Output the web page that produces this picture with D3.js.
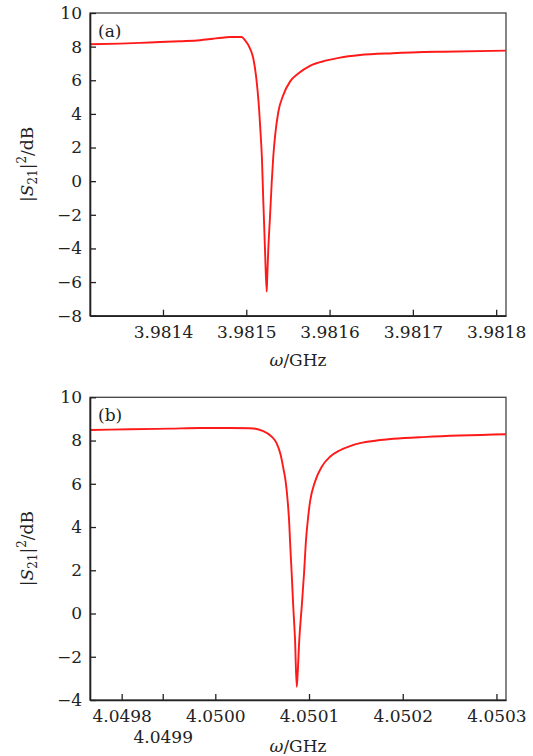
<!DOCTYPE html>
<html>
<head>
<meta charset="utf-8">
<script src="https://cdn.jsdelivr.net/npm/d3@7"></script>
<style>
  body { margin: 0; background: #fff; }
  svg text { font-family: "DejaVu Serif", serif; fill: #222; }
</style>
</head>
<body>
<div id="chart"></div>
<script>
// panel (a) : transmission around 3.98152 GHz
var freqA = [3.9813124, 3.9813484, 3.9813844, 3.9814204, 3.9814444, 3.9814600, 3.9814708,
  3.9814804, 3.9814945, 3.9814984, 3.9815044, 3.9815084, 3.9815116, 3.9815137, 3.9815156,
  3.9815173, 3.9815188, 3.9815204, 3.9815225, 3.9815245, 3.9815252, 3.9815264, 3.9815285,
  3.9815305, 3.9815324, 3.9815345, 3.9815384, 3.9815444, 3.9815525, 3.9815624, 3.9815765,
  3.9815965, 3.9816125, 3.9816365, 3.9816761, 3.9817361, 3.9818118];
var s21A = [8.14, 8.18, 8.25, 8.32, 8.38, 8.47, 8.53,
  8.57, 8.57, 8.39, 7.90, 7.31, 6.31, 5.32, 4.13,
  2.75, 1.36, -1.12, -4.09, -6.57, -5.68, -4.09, -2.11,
  -0.12, 1.45, 2.65, 4.10, 5.12, 5.92, 6.40, 6.86,
  7.18, 7.35, 7.50, 7.61, 7.70, 7.76];
var ticksA = [3.9814, 3.9815, 3.9816, 3.9817, 3.9818];
var tickLabelsA = ["3.9814", "3.9815", "3.9816", "3.9817", "3.9818"];
var yTicksA = [-8, -6, -4, -2, 0, 2, 4, 6, 8, 10];

// panel (b) : transmission around 4.05009 GHz
var freqB = [4.0498663, 4.0499090, 4.0499517, 4.0499837, 4.0500157, 4.0500370, 4.0500512,
  4.0500602, 4.0500655, 4.0500698, 4.0500726, 4.0500751, 4.0500773, 4.0500790, 4.0500797,
  4.0500815, 4.0500832, 4.0500851, 4.0500869, 4.0500879, 4.0500896, 4.0500922, 4.0500947,
  4.0500968, 4.0500982, 4.0501011, 4.0501064, 4.0501136, 4.0501224, 4.0501331, 4.0501438,
  4.0501544, 4.0501722, 4.0501900, 4.0502256, 4.0503102];
var s21B = [8.49, 8.52, 8.55, 8.58, 8.58, 8.57, 8.44,
  8.18, 7.87, 7.33, 6.72, 6.10, 5.17, 4.09, 3.40,
  1.86, 0.31, -1.23, -3.39, -2.77, -1.23, 0.31, 1.86,
  3.40, 4.09, 5.17, 6.10, 6.79, 7.25, 7.55, 7.74,
  7.88, 8.00, 8.08, 8.17, 8.29];
var ticksB = [4.0499001, 4.0499439, 4.0500, 4.0501, 4.0502, 4.0503];
var tickLabelsB = ["4.0498", "4.0499", "4.0500", "4.0501", "4.0502", "4.0503"];
var yTicksB = [-4, -2, 0, 2, 4, 6, 8, 10];

var width = 533, height = 756;
var fontSize = 17;

var svg = d3.select("#chart").append("svg")
  .attr("width", width)
  .attr("height", height);

function minus(d) { return d < 0 ? "\u2212" + Math.abs(d) : String(d); }

function panel(opt) {
  var w = 416, h = 302.7;
  var g = svg.append("g")
    .attr("transform", "translate(" + opt.left + "," + opt.top + ")");

  var x = d3.scaleLinear().domain(opt.xDomain).range([0, w]);
  var y = d3.scaleLinear().domain(opt.yDomain).range([h, 0]);

  g.append("clipPath").attr("id", "clip-" + opt.name)
    .append("rect").attr("width", w).attr("height", h);

  // frame (top / right)
  g.append("rect")
    .attr("width", w).attr("height", h)
    .attr("fill", "none")
    .attr("stroke", "#444")
    .attr("stroke-width", 1.3);

  var line = d3.line()
    .x(function (d) { return x(d[0]); })
    .y(function (d) { return y(d[1]); })
    .curve(d3.curveMonotoneX);

  g.append("path")
    .datum(d3.zip(opt.freq, opt.s21))
    .attr("clip-path", "url(#clip-" + opt.name + ")")
    .attr("fill", "none")
    .attr("stroke", "#ff1a1a")
    .attr("stroke-width", 1.9)
    .attr("stroke-linejoin", "round")
    .attr("d", line);

  var xAxis = d3.axisBottom(x)
    .tickValues(opt.xTicks)
    .tickFormat(function (d, i) { return opt.xLabels[i]; })
    .tickSizeInner(-6).tickSizeOuter(0).tickPadding(10);

  var yAxis = d3.axisLeft(y)
    .tickValues(opt.yTicks)
    .tickFormat(minus)
    .tickSizeInner(-6).tickSizeOuter(0).tickPadding(8);

  var gx = g.append("g").attr("transform", "translate(0," + h + ")").call(xAxis);
  var gy = g.append("g").call(yAxis);

  [gx, gy].forEach(function (a) {
    a.attr("font-family", null).attr("font-size", fontSize);
    a.select(".domain").attr("stroke", "#222").attr("stroke-width", 1.6);
    a.selectAll(".tick line").attr("stroke", "#222").attr("stroke-width", 1.3);
  });

  // staggered label row (panel b)
  if (opt.stagger) {
    gx.selectAll(".tick text").filter(function (d, i) { return i === 1; })
      .attr("y", 10 + 21);
  }

  // panel tag
  g.append("text")
    .attr("x", 8).attr("y", 24)
    .attr("font-size", fontSize)
    .text(opt.tag);

  // x title
  var xt = g.append("text")
    .attr("x", w / 2).attr("y", opt.xTitleY)
    .attr("text-anchor", "middle")
    .attr("font-size", fontSize);
  xt.append("tspan").attr("font-style", "italic").text("\u03c9");
  xt.append("tspan").text("/GHz");

  // y title
  var yt = g.append("text")
    .attr("transform", "translate(-57," + (h / 2) + ") rotate(-90)")
    .attr("text-anchor", "middle")
    .attr("font-size", fontSize);
  yt.append("tspan").text("|");
  yt.append("tspan").attr("font-style", "italic").text("S");
  yt.append("tspan").attr("font-size", 12).attr("dy", 4).text("21");
  yt.append("tspan").attr("dy", -4).text("|");
  yt.append("tspan").attr("font-size", 12).attr("dy", -7).text("2");
  yt.append("tspan").attr("dy", 7).text("/dB");
}

panel({
  name: "a", tag: "(a)", left: 90, top: 13,
  xDomain: [3.9813124, 3.9818118], yDomain: [-8, 10],
  freq: freqA, s21: s21A,
  xTicks: ticksA, xLabels: tickLabelsA, yTicks: yTicksA,
  xTitleY: 353, stagger: false
});

panel({
  name: "b", tag: "(b)", left: 90, top: 397.3,
  xDomain: [4.0498663, 4.0503102], yDomain: [-4, 10],
  freq: freqB, s21: s21B,
  xTicks: ticksB, xLabels: tickLabelsB, yTicks: yTicksB,
  xTitleY: 354.5, stagger: true
});
</script>
</body>
</html>
